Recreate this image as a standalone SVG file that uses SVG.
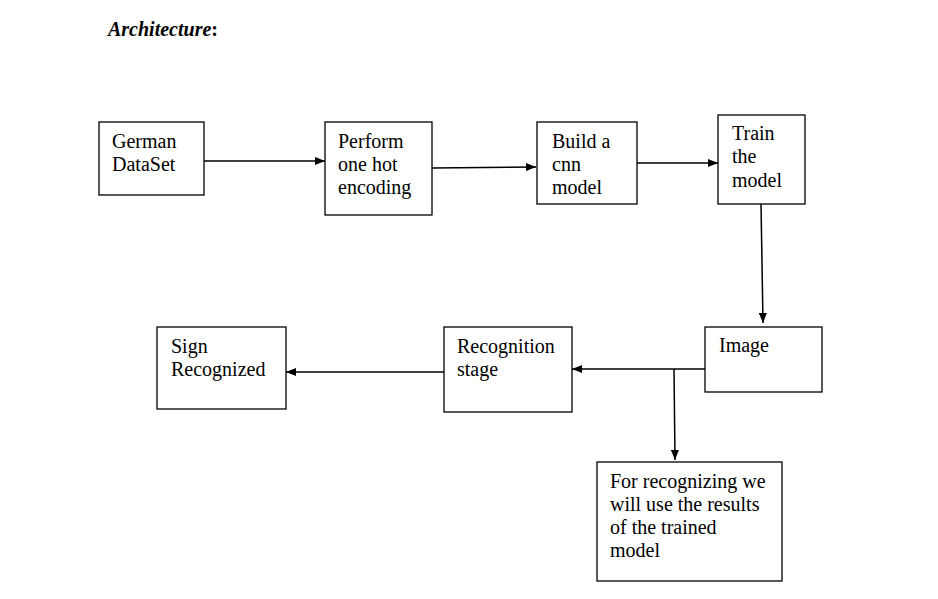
<svg xmlns="http://www.w3.org/2000/svg" width="938" height="599" viewBox="0 0 938 599">
<style>
.box{fill:#fff;stroke:#000;stroke-width:1.3}
.t{font-size:20px;fill:#000}
.c{fill:none;stroke:#000;stroke-width:1.5}
</style>
<defs>
<marker id="ah" viewBox="0 0 10 8" refX="10" refY="4" markerWidth="10" markerHeight="8" markerUnits="userSpaceOnUse" orient="auto">
<path d="M0,0 L10,4 L0,8 Z" fill="#000"/>
</marker>
</defs>
<rect width="938" height="599" fill="#fff"/>
<text x="108" y="36" font-family="Liberation Serif" font-weight="bold" font-size="20"><tspan font-style="italic">Architecture</tspan>:</text>
<g id="connectors">
<line class="c" x1="204" y1="161" x2="325" y2="161" marker-end="url(#ah)"/>
<line class="c" x1="432" y1="168" x2="536" y2="167" marker-end="url(#ah)"/>
<line class="c" x1="637" y1="163" x2="718" y2="163" marker-end="url(#ah)"/>
<line class="c" x1="761" y1="204" x2="763" y2="323" marker-end="url(#ah)"/>
<line class="c" x1="705" y1="369" x2="572" y2="369" marker-end="url(#ah)"/>
<line class="c" x1="444" y1="372" x2="286" y2="372" marker-end="url(#ah)"/>
<line class="c" x1="674" y1="369" x2="675" y2="460" marker-end="url(#ah)"/>
</g>
<g id="german">
<rect class="box" x="99" y="122" width="105" height="73"/>
<text class="t" font-family="Liberation Serif" x="112" y="148">German</text>
<text class="t" font-family="Liberation Serif" x="112" y="171">DataSet</text>
</g>
<g id="perform">
<rect class="box" x="325" y="122" width="107" height="93"/>
<text class="t" font-family="Liberation Serif" x="338" y="148">Perform</text>
<text class="t" font-family="Liberation Serif" x="338" y="171">one hot</text>
<text class="t" font-family="Liberation Serif" x="338" y="194">encoding</text>
</g>
<g id="build">
<rect class="box" x="537" y="122" width="100" height="82"/>
<text class="t" font-family="Liberation Serif" x="552" y="148">Build a</text>
<text class="t" font-family="Liberation Serif" x="552" y="171">cnn</text>
<text class="t" font-family="Liberation Serif" x="552" y="194">model</text>
</g>
<g id="train">
<rect class="box" x="718" y="115" width="87" height="89"/>
<text class="t" font-family="Liberation Serif" x="732" y="140">Train</text>
<text class="t" font-family="Liberation Serif" x="732" y="163">the</text>
<text class="t" font-family="Liberation Serif" x="732" y="187">model</text>
</g>
<g id="image">
<rect class="box" x="705" y="327" width="117" height="65"/>
<text class="t" font-family="Liberation Serif" x="719" y="352">Image</text>
</g>
<g id="recognition">
<rect class="box" x="444" y="327" width="128" height="85"/>
<text class="t" font-family="Liberation Serif" x="457" y="353">Recognition</text>
<text class="t" font-family="Liberation Serif" x="457" y="376">stage</text>
</g>
<g id="sign">
<rect class="box" x="157" y="327" width="129" height="82"/>
<text class="t" font-family="Liberation Serif" x="171" y="353">Sign</text>
<text class="t" font-family="Liberation Serif" x="171" y="376">Recognized</text>
</g>
<g id="note">
<rect class="box" x="597" y="462" width="185" height="119"/>
<text class="t" font-family="Liberation Serif" x="610" y="488">For recognizing we</text>
<text class="t" font-family="Liberation Serif" x="610" y="511">will use the results</text>
<text class="t" font-family="Liberation Serif" x="610" y="534">of the trained</text>
<text class="t" font-family="Liberation Serif" x="610" y="557">model</text>
</g>
</svg>
